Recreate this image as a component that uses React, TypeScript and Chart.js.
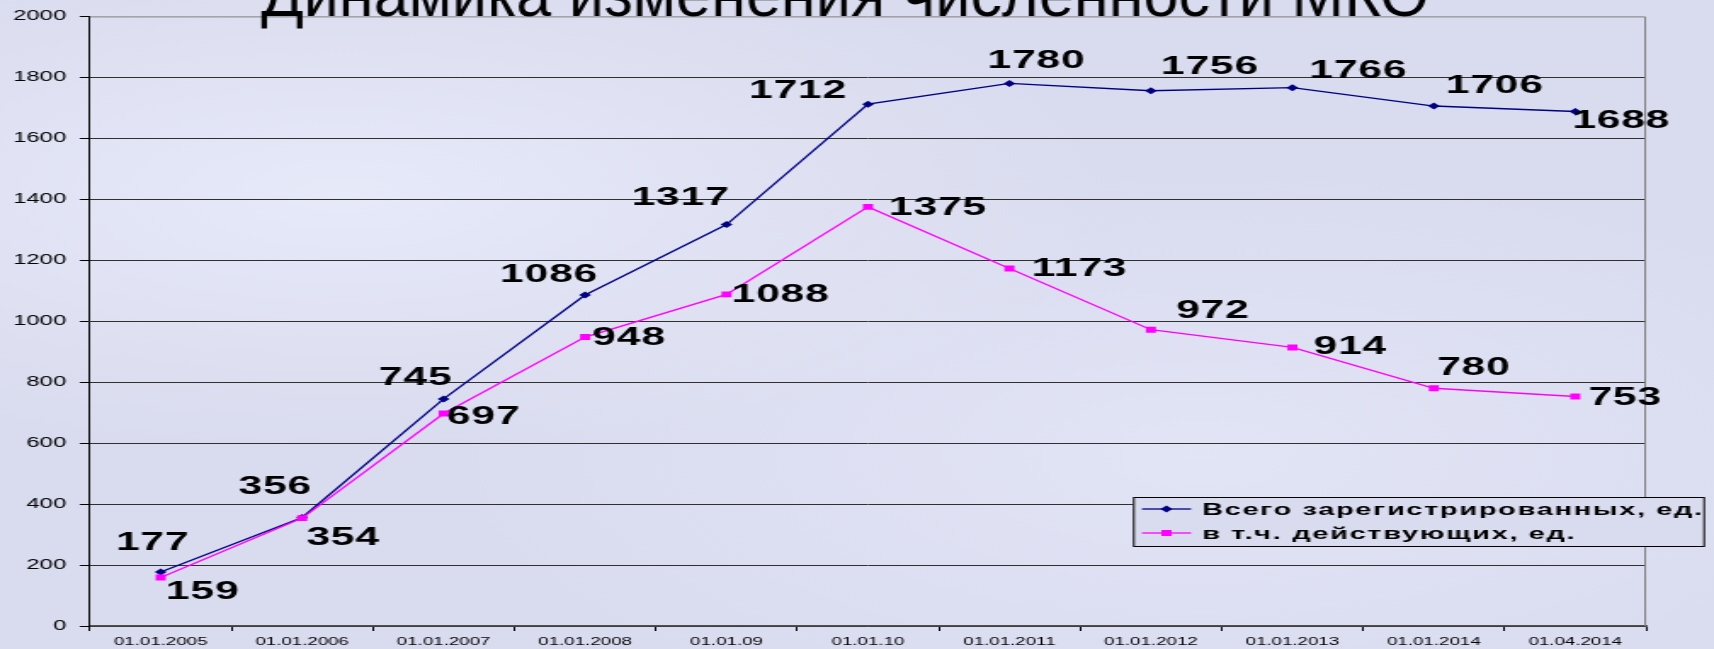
import React, { useEffect, useRef } from 'react';
import { Chart, registerables } from 'chart.js';

Chart.register(...registerables);

const categories = ['01.01.2005', '01.01.2006', '01.01.2007', '01.01.2008', '01.01.09', '01.01.10', '01.01.2011', '01.01.2012', '01.01.2013', '01.01.2014', '01.04.2014'];
const totalRegistered = [177, 356, 745, 1086, 1317, 1712, 1780, 1756, 1766, 1706, 1688];
const activeCount = [159, 354, 697, 948, 1088, 1375, 1173, 972, 914, 780, 753];
const seriesNames = ['Всего зарегистрированных, ед.', 'в т.ч. действующих, ед.'];
const titleText = 'Динамика изменения численности МКО';
const yMin = 0;
const yMax = 2000;
const yStep = 200;

// label placement offsets (screen px, relative to each point)
const totalLabelOffsets = [[-8, -29], [-27, -30], [-28, -21], [-36, -20], [-46, -26], [-70, -13], [27, -22], [59, -24], [66, -17], [61, -20], [46, 10]];
const activeLabelOffsets = [[42, 15], [41, 20], [40, 4], [44, 1], [54, 1], [70, 1], [70, 1], [62, -19], [58, 0], [40, -20], [50, 2]];

const W = 1714;
const H = 649;
const IW = 1008;
const SX = W / IW;
const FONT = '"Liberation Sans", Arial, sans-serif';
const BG = '#d9dbee';
const BLUE = '#000080';
const MAGENTA = '#ff00ff';

function drawDiamond(ctx: CanvasRenderingContext2D, x: number, y: number, r: number) {
  ctx.beginPath();
  ctx.moveTo(x, y - r);
  ctx.lineTo(x + r, y);
  ctx.lineTo(x, y + r);
  ctx.lineTo(x - r, y);
  ctx.closePath();
  ctx.fill();
}

const decorPlugin = {
  id: 'decor',
  beforeDatasetsDraw(chart: any) {
    const { ctx, chartArea: a } = chart;
    ctx.save();
    ctx.strokeStyle = '#808080';
    ctx.lineWidth = 1;
    ctx.beginPath();
    ctx.moveTo(a.left, a.top + 0.5);
    ctx.lineTo(a.right - 0.5, a.top + 0.5);
    ctx.lineTo(a.right - 0.5, a.bottom);
    ctx.stroke();
    ctx.restore();
  },
  afterDatasetsDraw(chart: any) {
    const { ctx } = chart;
    ctx.save();
    ctx.fillStyle = '#000';
    ctx.font = `bold 25px ${FONT}`;
    (ctx as any).letterSpacing = '0.5px';
    ctx.textAlign = 'center';
    ctx.textBaseline = 'middle';
    const sets = [
      { idx: 0, values: totalRegistered, offs: totalLabelOffsets },
      { idx: 1, values: activeCount, offs: activeLabelOffsets },
    ];
    sets.forEach(({ idx, values, offs }) => {
      const meta = chart.getDatasetMeta(idx);
      meta.data.forEach((el: any, i: number) => {
        const [dx, dy] = offs[i];
        ctx.fillText(String(values[i]), el.x + dx / SX, el.y + dy);
      });
    });
    (ctx as any).letterSpacing = '0px';
    ctx.restore();
  },
  afterDraw(chart: any) {
    const { ctx } = chart;
    // legend
    const lx = 1133 / SX;
    const ly = 497;
    const lw = (1705 - 1133) / SX;
    const lh = 50;
    ctx.save();
    ctx.fillStyle = BG;
    ctx.fillRect(lx, ly, lw, lh);
    ctx.strokeStyle = '#000';
    ctx.lineWidth = 1;
    ctx.strokeRect(lx + 0.5, ly + 0.5, lw - 1, lh - 1);
    const rows = [
      { y: 509, color: BLUE, name: seriesNames[0], marker: 'diamond' },
      { y: 533, color: MAGENTA, name: seriesNames[1], marker: 'square' },
    ];
    rows.forEach((r) => {
      const x1 = 1142 / SX;
      const x2 = 1191 / SX;
      ctx.strokeStyle = r.color;
      ctx.lineWidth = 1.3;
      ctx.beginPath();
      ctx.moveTo(x1, r.y);
      ctx.lineTo(x2, r.y);
      ctx.stroke();
      ctx.fillStyle = r.color;
      const cx = (x1 + x2) / 2;
      if (r.marker === 'diamond') drawDiamond(ctx, cx, r.y, 3.5);
      else ctx.fillRect(cx - 3, r.y - 3, 6, 6);
      ctx.fillStyle = '#000';
      ctx.font = `bold 17px ${FONT}`;
      (ctx as any).letterSpacing = '1px';
      ctx.textAlign = 'left';
      ctx.textBaseline = 'middle';
      ctx.fillText(r.name, 1202 / SX, r.y + 1);
      (ctx as any).letterSpacing = '0px';
    });
    ctx.restore();
    // title (not stretched)
    ctx.save();
    ctx.scale(1 / SX, 1);
    ctx.fillStyle = '#000';
    ctx.font = `63px ${FONT}`;
    ctx.textAlign = 'center';
    ctx.textBaseline = 'alphabetic';
    ctx.fillText(titleText, 845, 16);
    ctx.restore();
  },
};

export default function App() {
  const canvasRef = useRef<HTMLCanvasElement | null>(null);

  useEffect(() => {
    const canvas = canvasRef.current;
    if (!canvas) return;
    const chart = new Chart(canvas, {
      type: 'line',
      data: {
        labels: categories,
        datasets: [
          {
            label: seriesNames[0],
            data: totalRegistered,
            borderColor: BLUE,
            backgroundColor: BLUE,
            borderWidth: 1.3,
            pointStyle: 'rectRot',
            pointRadius: 3.5,
            pointBorderWidth: 0,
            tension: 0,
            order: 0,
          },
          {
            label: seriesNames[1],
            data: activeCount,
            borderColor: MAGENTA,
            backgroundColor: MAGENTA,
            borderWidth: 1.3,
            pointStyle: 'rect',
            pointRadius: 4.2,
            pointBorderWidth: 0,
            tension: 0,
            order: -1,
          },
        ],
      },
      options: {
        responsive: false,
        maintainAspectRatio: false,
        devicePixelRatio: 1,
        animation: false,
        events: [],
        layout: { padding: { top: 16, right: IW - 1646 / SX, left: 0, bottom: 0 } },
        plugins: {
          legend: { display: false },
          tooltip: { enabled: false },
          title: { display: false },
        },
        scales: {
          x: {
            type: 'category',
            offset: true,
            grid: {
              display: true,
              offset: true,
              drawOnChartArea: false,
              drawTicks: true,
              tickLength: 5,
              tickColor: '#000',
              color: '#000',
            },
            border: { display: true, color: '#505050', width: 1.5 },
            ticks: {
              color: '#000',
              font: { family: FONT, size: 11 },
              padding: 4,
              maxRotation: 0,
              autoSkip: false,
            },
            afterFit(scale: any) {
              scale.height = H - 626;
            },
          },
          y: {
            type: 'linear',
            min: yMin,
            max: yMax,
            grid: {
              color: (c: any) => (c.tick && c.tick.value === yMax ? 'rgba(0,0,0,0)' : '#303030'),
              tickColor: '#000',
              tickLength: 6,
              lineWidth: 1,
            },
            border: { display: true, color: '#000', width: 1 },
            ticks: {
              stepSize: yStep,
              color: '#000',
              font: { family: FONT, size: 14 },
              padding: 8,
              callback: (v: any) => String(v),
            },
            afterFit(scale: any) {
              scale.width = 90 / SX;
            },
          },
        },
      },
      plugins: [decorPlugin],
    } as any);
    return () => chart.destroy();
  }, []);

  return (
    <div
      style={{
        position: 'fixed',
        left: 0,
        top: 0,
        width: W,
        height: H,
        overflow: 'hidden',
        background: `radial-gradient(ellipse at 20% 30%, rgba(232,235,250,0.9), rgba(232,235,250,0) 40%), radial-gradient(ellipse at 70% 70%, rgba(228,231,248,0.8), rgba(228,231,248,0) 45%), ${BG}`,
      }}
    >
      <canvas
        ref={canvasRef}
        width={IW}
        height={H}
        style={{ width: `${W}px`, height: `${H}px`, display: 'block' }}
      />
    </div>
  );
}
